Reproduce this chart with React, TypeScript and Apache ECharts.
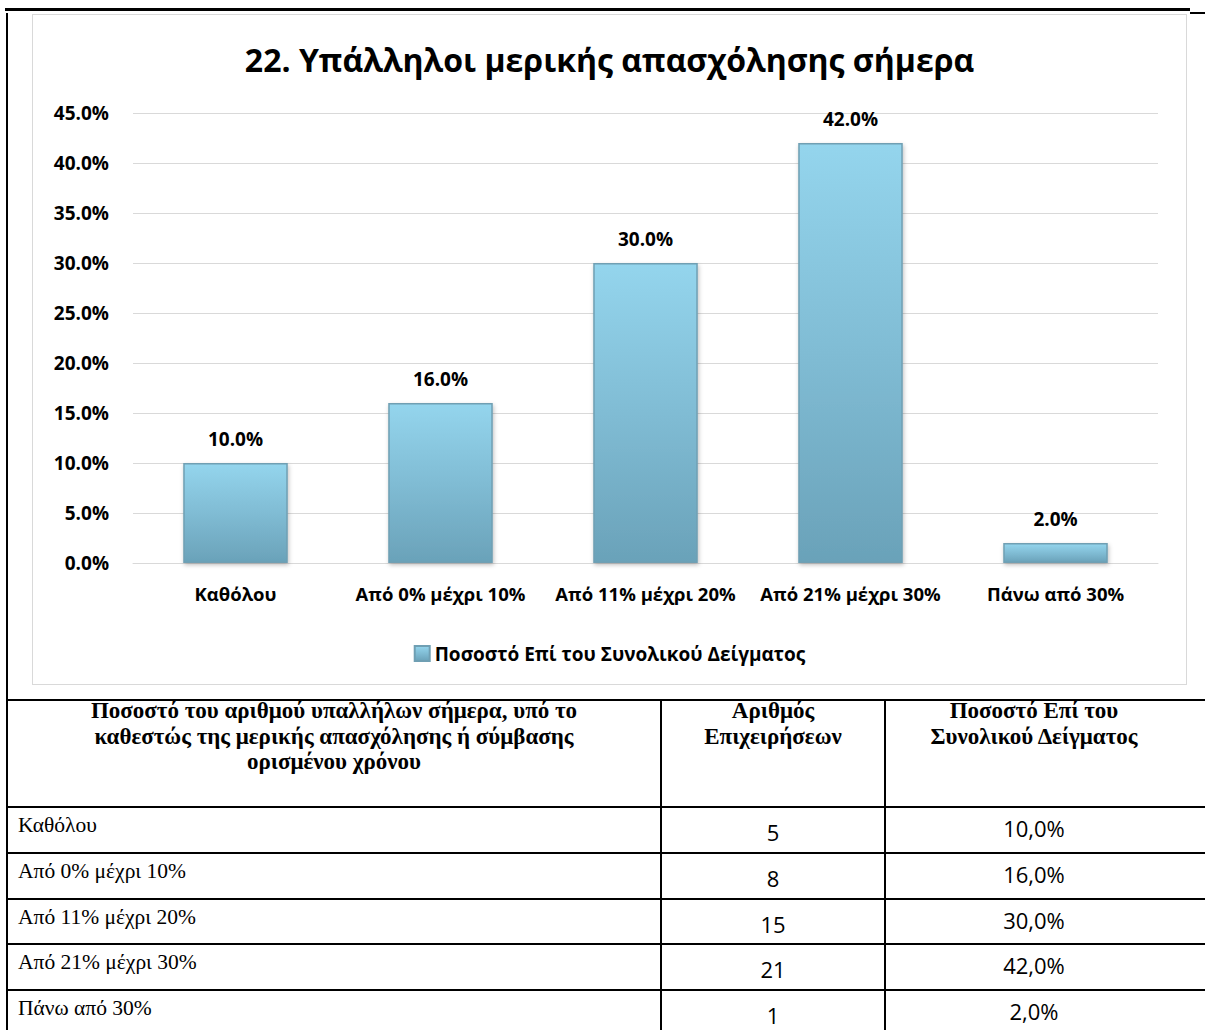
import React, { useEffect, useRef } from "react";
import * as echarts from "echarts";

const chartTitle = "22. Υπάλληλοι μερικής απασχόλησης σήμερα";
const seriesName = "Ποσοστό Επί του Συνολικού Δείγματος";
const categories = ["Καθόλου", "Από 0% μέχρι 10%", "Από 11% μέχρι 20%", "Από 21% μέχρι 30%", "Πάνω από 30%"];
const percentValues = [10, 16, 30, 42, 2];
const firmCounts = [5, 8, 15, 21, 1];
const tablePercentLabels = ["10,0%", "16,0%", "30,0%", "42,0%", "2,0%"];
const headerCol1 = ["Ποσοστό του αριθμού υπαλλήλων σήμερα, υπό το", "καθεστώς της μερικής απασχόλησης ή σύμβασης", "ορισμένου χρόνου"];
const headerCol2 = ["Αριθμός", "Επιχειρήσεων"];
const headerCol3 = ["Ποσοστό Επί του", "Συνολικού Δείγματος"];

const SANS = "'Open Sans', 'Noto Sans', sans-serif";
const SERIF = "'Liberation Serif', 'DejaVu Serif', serif";

function Chart() {
  const ref = useRef<HTMLDivElement>(null);
  useEffect(() => {
    if (!ref.current) return;
    const chart = echarts.init(ref.current, null, { renderer: "svg" });
    const barColor = new echarts.graphic.LinearGradient(0, 0, 0, 1, [
      { offset: 0, color: "#94d5ed" },
      { offset: 0.5, color: "#80bcd4" },
      { offset: 1, color: "#6aa2b9" },
    ]);
    chart.setOption({
      animation: false,
      backgroundColor: "#ffffff",
      title: {
        text: chartTitle,
        left: "center",
        top: 23,
        textStyle: { fontFamily: SANS, fontWeight: "bold", fontSize: 32, color: "#000" },
      },
      legend: {
        data: [seriesName],
        top: 624,
        left: "center",
        icon: "rect",
        itemWidth: 15,
        itemHeight: 15,
        itemGap: 4,
        textStyle: { fontFamily: SANS, fontWeight: "bold", fontSize: 19, color: "#000" },
      },
      grid: { left: 100, right: 28, top: 98, bottom: 121, containLabel: false },
      xAxis: {
        type: "category",
        data: categories,
        axisLine: { lineStyle: { color: "#d9d9d9", width: 1 } },
        axisTick: { show: false },
        axisLabel: {
          interval: 0,
          hideOverlap: false,
          margin: 21,
          fontFamily: SANS,
          fontWeight: "bold",
          fontSize: 18.5,
          color: "#000",
        },
      },
      yAxis: {
        type: "value",
        min: 0,
        max: 45,
        interval: 5,
        axisLine: { show: false },
        axisTick: { show: false },
        splitLine: { lineStyle: { color: "#d9d9d9", width: 1 } },
        axisLabel: {
          margin: 24,
          fontFamily: SANS,
          fontWeight: "bold",
          fontSize: 19,
          color: "#000",
          formatter: (v: number) => v.toFixed(1) + "%",
        },
      },
      series: [
        {
          name: seriesName,
          type: "bar",
          data: percentValues,
          barWidth: "51%",
          itemStyle: {
            color: barColor,
            borderColor: "#6f9fb3",
            borderWidth: 1.5,
            shadowBlur: 4,
            shadowColor: "rgba(0,0,0,0.25)",
            shadowOffsetX: 1,
            shadowOffsetY: 2,
          },
          label: {
            show: true,
            position: "top",
            distance: 15,
            fontFamily: SANS,
            fontWeight: "bold",
            fontSize: 19,
            color: "#000",
            formatter: (p: any) => Number(p.value).toFixed(1) + "%",
          },
        },
      ],
    });
    return () => chart.dispose();
  }, []);
  return <div ref={ref} style={{ position: "absolute", left: 0, top: 0, width: 1153, height: 669 }} />;
}

const abs = (s: React.CSSProperties): React.CSSProperties => ({ position: "absolute", ...s });

export default function App() {
  const rowTop = (i: number) => 807 + i * 45.75;
  return (
    <div style={abs({ left: 0, top: 0, width: 1205, height: 1030, background: "#fff", overflow: "hidden" })}>
      {/* page top rule */}
      <div style={abs({ left: 5, top: 8, width: 1185, height: 3, background: "#000" })} />
      <div style={abs({ left: 1190, top: 12, width: 15, height: 2, background: "#000" })} />
      {/* left border */}
      <div style={abs({ left: 6, top: 13, width: 2, height: 1017, background: "#000" })} />
      {/* chart frame */}
      <div style={abs({ left: 32, top: 14, width: 1155, height: 671, border: "1px solid #d9d9d9", boxSizing: "border-box" })}>
        <Chart />
      </div>
      {/* table lines */}
      <div style={abs({ left: 6, top: 699, width: 1199, height: 2, background: "#000" })} />
      {categories.map((_, i) => (
        <div key={"hl" + i} style={abs({ left: 6, top: rowTop(i) - 1, width: 1199, height: 2, background: "#000" })} />
      ))}
      <div style={abs({ left: 660, top: 700, width: 2, height: 330, background: "#000" })} />
      <div style={abs({ left: 884, top: 700, width: 2, height: 330, background: "#000" })} />
      {/* header */}
      <div style={abs({ left: 8, top: 698, width: 652, textAlign: "center", fontFamily: SERIF, fontWeight: "bold", fontSize: 23, lineHeight: "25.5px", color: "#000" })}>
        {headerCol1.map((t, i) => <div key={i}>{t}</div>)}
      </div>
      <div style={abs({ left: 662, top: 698, width: 222, textAlign: "center", fontFamily: SERIF, fontWeight: "bold", fontSize: 23, lineHeight: "25.5px", color: "#000" })}>
        {headerCol2.map((t, i) => <div key={i}>{t}</div>)}
      </div>
      <div style={abs({ left: 886, top: 698, width: 296, textAlign: "center", fontFamily: SERIF, fontWeight: "bold", fontSize: 23, lineHeight: "25.5px", color: "#000" })}>
        {headerCol3.map((t, i) => <div key={i}>{t}</div>)}
      </div>
      {/* body rows */}
      {categories.map((c, i) => (
        <React.Fragment key={"r" + i}>
          <div style={abs({ left: 18, top: rowTop(i) + 7, fontFamily: SERIF, fontSize: 21.5, lineHeight: "22px", color: "#000", whiteSpace: "nowrap" })}>{c}</div>
          <div style={abs({ left: 662, top: rowTop(i) + 12, width: 222, textAlign: "center", fontFamily: SANS, fontSize: 22, lineHeight: "27px", color: "#000" })}>{firmCounts[i]}</div>
          <div style={abs({ left: 886, top: rowTop(i) + 8, width: 296, textAlign: "center", fontFamily: SANS, fontSize: 22, lineHeight: "27px", color: "#000" })}>{tablePercentLabels[i]}</div>
        </React.Fragment>
      ))}
    </div>
  );
}
